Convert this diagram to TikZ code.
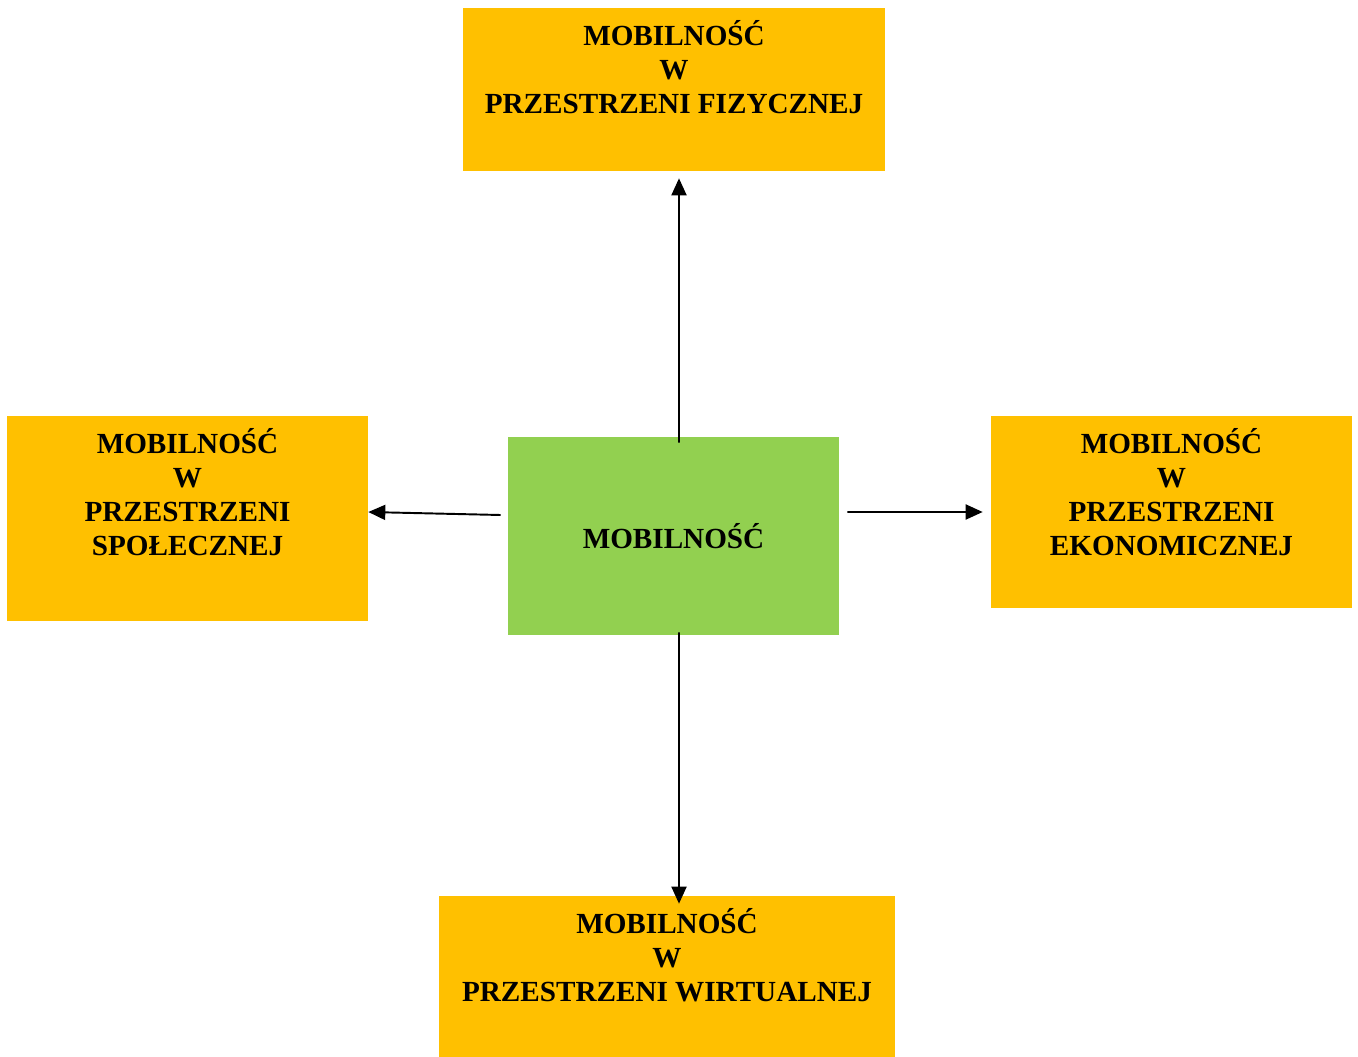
\documentclass[tikz,border=0pt]{standalone}
\usepackage{fontspec}
\setmainfont{Liberation Serif}
\usepackage{xcolor}
\usepackage{tikz}
\usetikzlibrary{positioning,arrows.meta,calc}

\definecolor{mobyellow}{HTML}{FFC000}
\definecolor{mobgreen}{HTML}{92D050}

\tikzset{
  areabox/.style={fill=mobyellow, draw=none, inner sep=0pt},
  areatext/.style={anchor=north, yshift=-0.25cm, fill=none, inner sep=0pt, align=center},
  link/.style={-{Triangle[length=0.34cm,width=0.3cm]}, line width=1.1pt}
}

\begin{document}
\begin{tikzpicture}[x=0.02cm, y=-0.02cm, every node/.style={font=\fontsize{16.6}{19.3}\selectfont\bfseries}]
  \useasboundingbox (0,0) rectangle (1358,1057);

  % Centre: mobility as such
  \node (mob) at (673.5,536) [fill=mobgreen, minimum width=6.62cm, minimum height=3.96cm, inner sep=0pt] {MOBILNOŚĆ};

  % Four spaces around it
  \node (phys) at (674,89.5) [areabox, minimum width=8.44cm, minimum height=3.26cm,
    label={[areatext]north:MOBILNOŚĆ\\W\\PRZESTRZENI FIZYCZNEJ}] {};
  \node (soc) at (187.5,518.5) [areabox, minimum width=7.22cm, minimum height=4.10cm,
    label={[areatext]north:MOBILNOŚĆ\\W\\PRZESTRZENI\\SPOŁECZNEJ}] {};
  \node (econ) at (1171.5,512) [areabox, minimum width=7.22cm, minimum height=3.84cm,
    label={[areatext]north:MOBILNOŚĆ\\W\\PRZESTRZENI\\EKONOMICZNEJ}] {};
  \node (virt) at (667,978) [areabox, minimum width=9.12cm, minimum height=3.28cm,
    label={[areatext]north:MOBILNOŚĆ\\W\\PRZESTRZENI WIRTUALNEJ}] {};

  % Arrows out of the centre
  \draw[link] ([xshift=0.11cm,yshift=-0.12cm]mob.north) -- ([xshift=0.1cm,yshift=-0.14cm]phys.south);
  \draw[link] ([xshift=-0.14cm,yshift=0.42cm]mob.west) -- ([yshift=0.13cm]soc.east);
  \draw[link] ([xshift=0.16cm,yshift=0.48cm]mob.east) -- ([xshift=-0.16cm]econ.west);
  \draw[link] ([xshift=0.11cm,yshift=0.06cm]mob.south) -- ([xshift=0.24cm,yshift=-0.16cm]virt.north);
\end{tikzpicture}
\end{document}
